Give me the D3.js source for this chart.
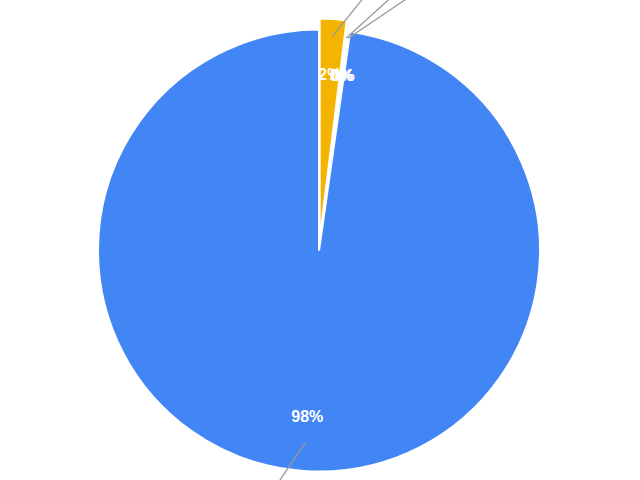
<!DOCTYPE html>
<html>

<head>
    <meta charset="utf-8">
    <style>
        body {
            margin: 0;
            background: #fff;
        }

        svg {
            display: block;
            font-family: Arial, 'Liberation Sans', sans-serif;
        }

        .slice-label {
            fill: #fff;
            font-size: 16px;
            font-weight: bold;
        }

        .leader {
            stroke: #999;
            stroke-width: 1.3px;
            fill: none;
        }
    </style>
</head>

<body>
    <svg width="640" height="480"></svg>
</body>

<script src="https://d3js.org/d3.v7.min.js"></script>

<script>
    // data, clockwise from 12 o'clock
    let categories = ["Slice C", "Slice B", "Slice D", "Slice A"]
    let values = [1.95, 0.15, 0.15, 97.75]
    let colors = ["#F4B400", "#DB4437", "#0F9D58", "#4285F4"]

    let width = 640;
    let height = 480;
    let cx = 319;
    let cy = 250.5;
    let radius = 221;
    let explode = 11; // small slices are pulled out

    // direction of each leader line (degrees from 12 o'clock)
    let leaderAngle = [39, 48, 56, 214]

    let svg = d3.select("svg")

    let data = categories.map(function (c, i) {
        return { name: c, value: values[i], color: colors[i], lead: leaderAngle[i] }
    })

    let total = d3.sum(values)

    let pie = d3.pie()
        .sort(null)
        .value(d => d.value)

    let arcs = pie(data)

    let arc = d3.arc()
        .innerRadius(0)
        .outerRadius(radius)

    let isPulled = d => d.data.value / total < 0.05

    // offset of a slice's centre when it is pulled out
    function shift(d) {
        let mid = (d.startAngle + d.endAngle) / 2
        let o = isPulled(d) ? explode : 0
        return [Math.sin(mid) * o, -Math.cos(mid) * o]
    }

    // point along the slice's mid angle at distance r from its (shifted) centre
    function along(d, r) {
        let mid = (d.startAngle + d.endAngle) / 2
        let s = shift(d)
        return [cx + s[0] + Math.sin(mid) * r, cy + s[1] - Math.cos(mid) * r]
    }

    let g = svg.append("g")

    g.selectAll("path.slice")
        .data(arcs)
        .join("path")
        .attr("class", "slice")
        .attr("transform", d => {
            let s = shift(d)
            return `translate(${cx + s[0]},${cy + s[1]})`
        })
        .attr("d", arc)
        .style("fill", d => d.data.color)
        .style("stroke", "#fff")
        .style("stroke-width", 2)

    // leader lines toward the legend labels (outside the frame)
    let startR = d => radius * (isPulled(d) ? 0.92 : 0.87)

    svg.append("g")
        .selectAll("line")
        .data(arcs)
        .join("line")
        .attr("class", "leader")
        .attr("x1", d => along(d, startR(d))[0])
        .attr("y1", d => along(d, startR(d))[1])
        .attr("x2", d => along(d, startR(d))[0] + Math.sin(d.data.lead * Math.PI / 180) * 200)
        .attr("y2", d => along(d, startR(d))[1] - Math.cos(d.data.lead * Math.PI / 180) * 200)

    svg.append("g")
        .selectAll("text")
        .data(arcs)
        .join("text")
        .attr("class", "slice-label")
        .attr("x", d => along(d, radius * 0.75)[0])
        .attr("y", d => along(d, radius * 0.75)[1])
        .attr("text-anchor", "middle")
        .attr("dy", "0.36em")
        .text(d => Math.round(d.data.value / total * 100) + "%")

</script>

</html>
